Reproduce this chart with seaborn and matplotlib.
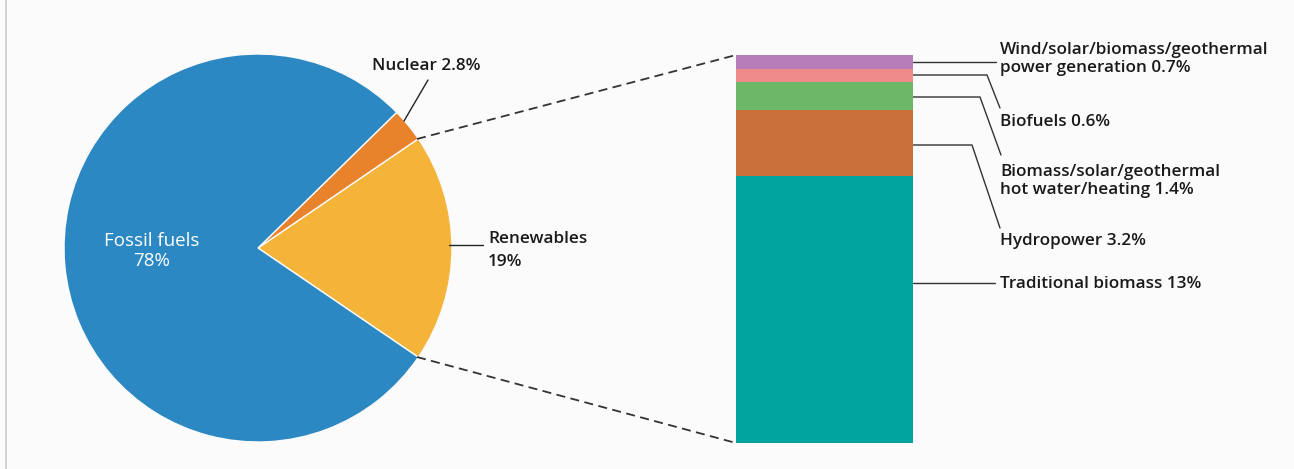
import matplotlib
matplotlib.use("Agg")
import matplotlib.pyplot as plt
import seaborn as sns
import numpy as np
import pandas as pd

# ---- data ----
pie_labels = ["Renewables", "Nuclear", "Fossil fuels"]
pie_values = [19.0, 2.8, 78.0]
pie_colors = ["#f4b43a", "#e8832c", "#2b88c3"]

bar_labels = ["Traditional biomass", "Hydropower",
              "Biomass/solar/geothermal hot water/heating",
              "Biofuels", "Wind/solar/biomass/geothermal power generation"]
bar_values = [13.0, 3.2, 1.4, 0.6, 0.7]
bar_colors = ["#00a39e", "#c96f38", "#6db868", "#ee8a8a", "#b77cba"]

label_texts = ["Traditional biomass 13%", "Hydropower 3.2%",
               "Biomass/solar/geothermal\nhot water/heating 1.4%",
               "Biofuels 0.6%", "Wind/solar/biomass/geothermal\npower generation 0.7%"]

W, H = 1294, 469
sns.set_theme(style="white")
plt.rcParams["font.family"] = ["Open Sans", "DejaVu Sans"]

fig = plt.figure(figsize=(W / 100, H / 100), dpi=100)
fig.patch.set_facecolor("#fbfbfb")
ax = fig.add_axes([0, 0, 1, 1])


def Y(p):
    return H - p


# ---- pie ----
total = sum(pie_values)
start = -pie_values[0] / total * 360 / 2
cx, cy, r = 258, Y(248), 194
ax.pie(pie_values, colors=pie_colors, startangle=start, center=(cx, cy), radius=r,
       counterclock=True, wedgeprops=dict(edgecolor="#fbfbfb", linewidth=1.0))
ax.set_xlim(0, W)
ax.set_ylim(0, H)
ax.set_aspect("equal")
ax.axis("off")

tfont = dict(fontsize=12.3, fontweight="semibold", color="#1a1a1a")
ax.text(152, Y(251), "Fossil fuels\n78%", ha="center", va="center", color="white",
        fontsize=13.5, linespacing=1.15)
ax.text(372, Y(66), "Nuclear 2.8%", ha="left", va="center", **tfont)
ax.plot([428, 404], [Y(80), Y(121)], color="#222222", lw=1)
ax.text(488, Y(239), "Renewables", ha="left", va="center", **tfont)
ax.text(488, Y(262), "19%", ha="left", va="center", **tfont)
ax.plot([449, 483], [Y(245), Y(245)], color="#222222", lw=1)

# dashed connectors
ax.plot([417, 736], [Y(139), Y(55)], color="#333333", lw=1.3, ls=(0, (5, 3)))
ax.plot([417, 736], [Y(357), Y(443)], color="#333333", lw=1.3, ls=(0, (5, 3)))

# ---- stacked bar with seaborn ----
bx0, bx1, by_top, by_bot = 736, 913, 55, 443
bax = fig.add_axes([bx0 / W, (H - by_bot) / H, (bx1 - bx0) / W, (by_bot - by_top) / H])
cum = np.cumsum(bar_values)
for i in range(len(bar_values) - 1, -1, -1):
    df = pd.DataFrame({"x": ["all"], "y": [cum[i]]})
    sns.barplot(data=df, x="x", y="y", color=bar_colors[i], width=1.0,
                saturation=1, ax=bax, linewidth=0)
bax.set_xlim(-0.5, 0.5)
bax.set_ylim(0, cum[-1])
bax.axis("off")

# leader lines + labels (pixel coords)
lc = "#333333"
# teal
ax.plot([913, 995], [Y(283), Y(283)], color=lc, lw=1)
ax.text(1000, Y(284), label_texts[0], ha="left", va="center", **tfont)
# orange (hydro)
ax.plot([913, 972, 1000], [Y(145), Y(145), Y(228)], color=lc, lw=1)
ax.text(1000, Y(241), label_texts[1], ha="left", va="center", **tfont)
# green
ax.plot([913, 980, 1001], [Y(97), Y(97), Y(155)], color=lc, lw=1)
ax.text(1000, Y(181), label_texts[2], ha="left", va="center", linespacing=1.15, **tfont)
# pink
ax.plot([913, 987, 1000], [Y(75), Y(75), Y(108)], color=lc, lw=1)
ax.text(1000, Y(122), label_texts[3], ha="left", va="center", **tfont)
# purple
ax.plot([913, 996], [Y(62), Y(62)], color=lc, lw=1)
ax.text(1000, Y(59), label_texts[4], ha="left", va="center", linespacing=1.15, **tfont)

# frame edge on the left
ax.plot([6, 6], [0, H], color="#cccccc", lw=1.2)

fig.savefig("out.png", dpi=100, facecolor=fig.get_facecolor())
